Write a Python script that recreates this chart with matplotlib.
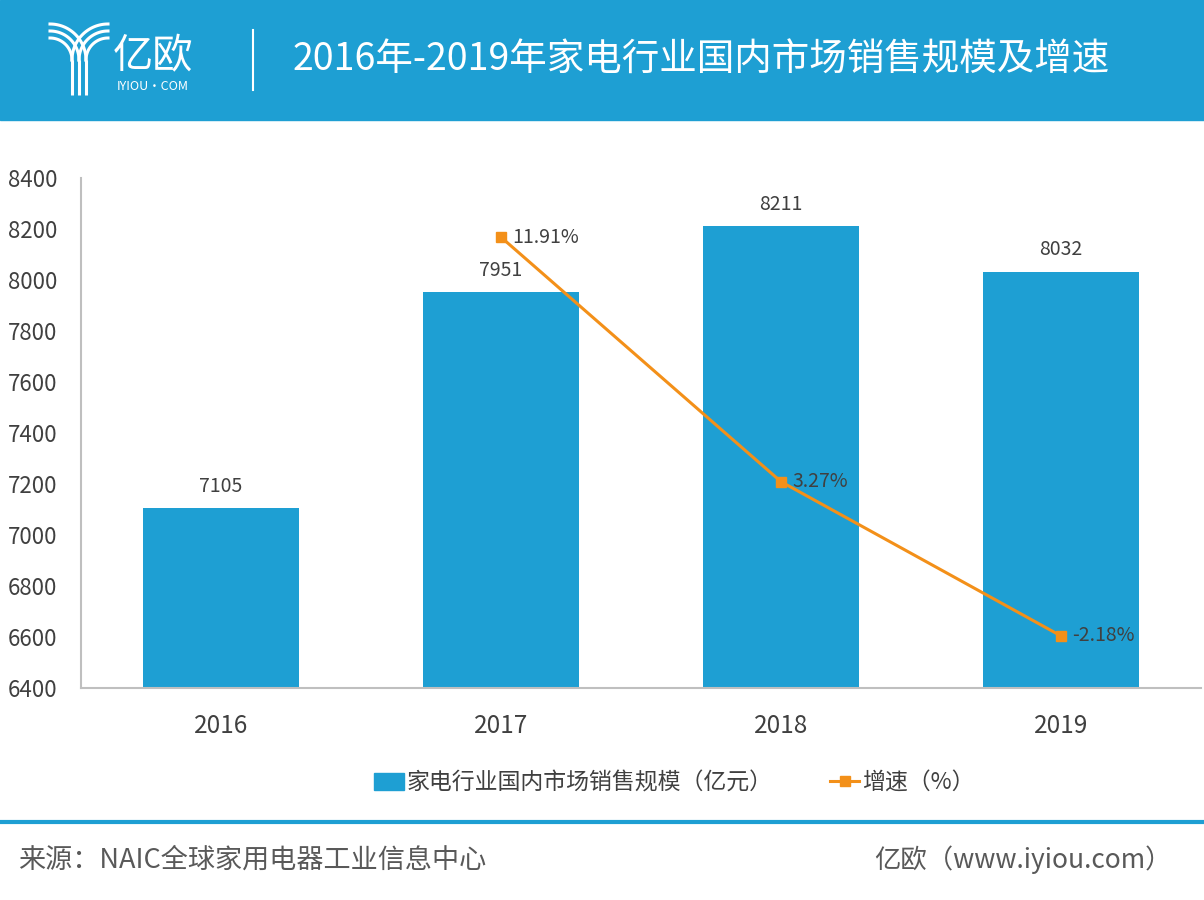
import matplotlib.pyplot as plt
import numpy as np
from matplotlib.patches import Rectangle
from matplotlib.lines import Line2D

plt.rcParams['font.family'] = ['Noto Sans CJK SC', 'DejaVu Sans']

years = ['2016', '2017', '2018', '2019']
sales = [7105, 7951, 8211, 8032]
growth_years = [1, 2, 3]   # index into years
growth = [11.91, 3.27, -2.18]
growth_labels = ['11.91%', '3.27%', '-2.18%']

blue = '#1E9FD3'
orange = '#F39019'
text_c = '#404040'

fig = plt.figure(figsize=(12.04, 9), dpi=100)

# header band
fig.patches.append(Rectangle((0, 1 - 120 / 900), 1, 120 / 900, transform=fig.transFigure,
                             color=blue, zorder=-5))
fig.add_artist(Line2D([253 / 1204, 253 / 1204], [1 - 30 / 900, 1 - 90 / 900],
                      color='white', lw=1.5))
fig.text(293 / 1204, 1 - 60 / 900, '2016年-2019年家电行业国内市场销售规模及增速',
         color='white', fontsize=27, fontweight='medium', va='center', ha='left')

# logo: rough "Y" of three stems splitting into arcs (pixel coords, y down)
logo = fig.add_axes([45 / 1204, 1 - 100 / 900, 67 / 1204, 85 / 900], zorder=5)
logo.set_xlim(45, 112)
logo.set_ylim(100, 15)
logo.axis('off')
t = np.linspace(0, np.pi / 2, 40)
for xs in [72, 79, 86]:
    logo.plot([xs, xs], [95, 60], color='white', lw=2.2, solid_capstyle='butt')
    r = xs - 50
    logo.plot(xs - r + r * np.cos(t), 60 - r * np.sin(t), color='white', lw=2.2)
    r = 108 - xs
    logo.plot(xs + r - r * np.cos(t), 60 - r * np.sin(t), color='white', lw=2.2)
fig.text(113 / 1204, 1 - 57 / 900, '亿欧', color='white', fontsize=29, va='center',
         ha='left', fontweight='light')
fig.text(117 / 1204, 1 - 86 / 900, 'IYIOU·COM', color='white', fontsize=9, va='center', ha='left')

# main chart
ax = fig.add_axes([81 / 1204, 1 - 688 / 900, 1120 / 1204, 510 / 900])
x = np.arange(len(years))
ax.bar(x, sales, width=0.555, color=blue, zorder=2)
for xi, v in zip(x, sales):
    ax.text(xi, v + 45, str(v), ha='center', va='bottom', fontsize=14, color=text_c,
            fontweight='light')
ax.set_xlim(-0.5, 3.5)
ax.set_ylim(6400, 8400)
ax.set_yticks(range(6400, 8401, 200))
ax.set_xticks(x)
ax.set_xticklabels(years, fontsize=17.5, color=text_c, fontweight='light')
ax.tick_params(axis='y', labelsize=16, labelcolor=text_c, length=0, pad=17)
ax.tick_params(axis='x', length=0, pad=18)
for lab in ax.get_yticklabels():
    lab.set_fontweight('light')
for s in ['top', 'right']:
    ax.spines[s].set_visible(False)
for s in ['left', 'bottom']:
    ax.spines[s].set_color('#BFBFBF')
    ax.spines[s].set_linewidth(1.5)

ax2 = ax.twinx()
ax2.set_ylim(-4.02, 14.0)
ax2.axis('off')
ax2.plot(growth_years, growth, color=orange, lw=2.2, marker='s', markersize=7, zorder=3)
for xi, g, lab in zip(growth_years, growth, growth_labels):
    ax2.text(xi + 0.04, g, lab, ha='left', va='center', fontsize=14, color=text_c,
             fontweight='light')

# legend
handles = [Rectangle((0, 0), 1, 1, color=blue),
           Line2D([0], [0], color=orange, lw=2.2, marker='s', markersize=7)]
fig.legend(handles, ['家电行业国内市场销售规模（亿元）', '增速（%）'],
           loc='center', bbox_to_anchor=(0.56, 1 - 783 / 900), ncol=2, frameon=False,
           handlelength=1.3, handletextpad=0.1, columnspacing=2.5,
           prop={'size': 16.5, 'weight': 'light'}, labelcolor=text_c)

# footer
fig.add_artist(Line2D([0, 1], [1 - 822 / 900, 1 - 822 / 900], color=blue, lw=3))
fig.text(18 / 1204, 1 - 860 / 900, '来源：NAIC全球家用电器工业信息中心', fontsize=19.5,
         color='#595959', va='center', ha='left', fontweight='light')
fig.text(1172 / 1204, 1 - 860 / 900, '亿欧（www.iyiou.com）', fontsize=19,
         color='#595959', va='center', ha='right', fontweight='light')

fig.savefig('out.png', dpi=100)
